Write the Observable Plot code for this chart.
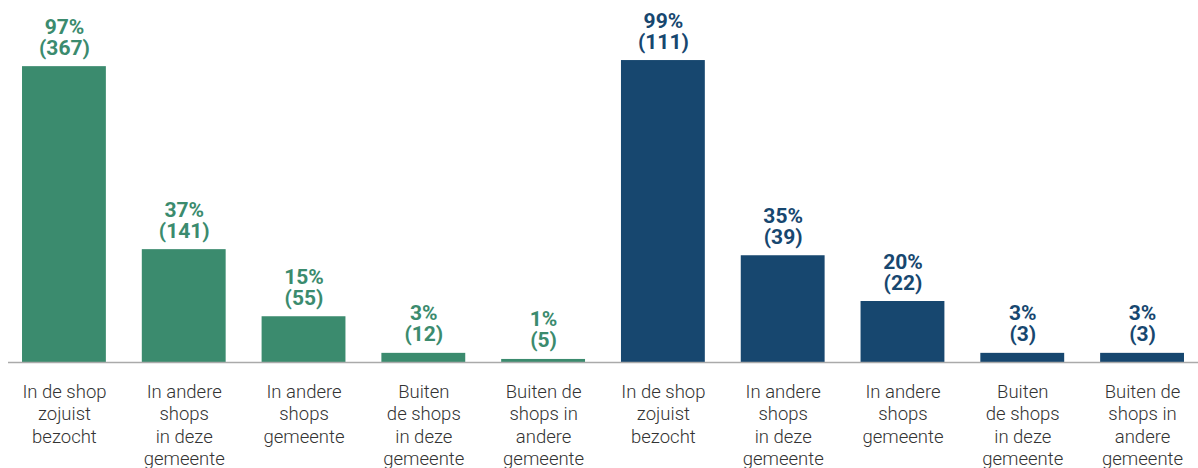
<!DOCTYPE html>
<html>
<head>
<meta charset="utf-8">
<script src="https://cdn.jsdelivr.net/npm/d3@7"></script>
<script src="https://cdn.jsdelivr.net/npm/@observablehq/plot@0.6"></script>
<style>
  html, body { margin: 0; padding: 0; background: #fff; }
  #chart { width: 1198px; height: 468px; }
</style>
</head>
<body>
<div id="chart"></div>
<script>
const categories = [
  "In de shop\nzojuist\nbezocht",
  "In andere\nshops\nin deze\ngemeente",
  "In andere\nshops\ngemeente",
  "Buiten\nde shops\nin deze\ngemeente",
  "Buiten de\nshops in\nandere\ngemeente"
];
const groups = ["A", "B"];
const groupColors = ["#3b8b6e", "#17476f"];
const percentA = [97, 37, 15, 3, 1];
const countA = [367, 141, 55, 12, 5];
const percentB = [99, 35, 20, 3, 3];
const countB = [111, 39, 22, 3, 3];

const data = [];
[[percentA, countA], [percentB, countB]].forEach(([p, c], gi) => {
  categories.forEach((cat, i) => {
    data.push({key: groups[gi] + i, group: groups[gi], label: cat, pct: p[i], n: c[i]});
  });
});

const chart = Plot.plot({
  width: 1198,
  height: 468,
  marginLeft: 8,
  marginRight: 0,
  marginTop: 57,
  marginBottom: 106,
  style: {fontFamily: "Roboto, sans-serif", background: "#fff"},
  x: {domain: data.map(d => d.key), padding: 0.3, paddingOuter: 0.117, round: false, axis: null},
  y: {domain: [0, 100], axis: null},
  color: {domain: groups, range: groupColors},
  marks: [
    Plot.barY(data, {x: "key", y: "pct", fill: "group"}),
    Plot.ruleY([0], {stroke: "#aaaaaa", strokeWidth: 1.5}),
    Plot.text(data, {
      x: "key", y: "pct",
      text: d => `${d.pct}%\n(${d.n})`,
      fill: "group",
      lineAnchor: "bottom",
      dy: -12,
      fontSize: 21,
      fontWeight: 700,
      lineHeight: 1.0
    }),
    Plot.text(data, {
      x: "key", y: 0,
      text: "label",
      lineAnchor: "top",
      dy: 19,
      fontSize: 18.5,
      fontWeight: 300,
      fill: "#333",
      lineHeight: 1.22
    })
  ]
});
document.getElementById("chart").appendChild(chart);
</script>
</body>
</html>
